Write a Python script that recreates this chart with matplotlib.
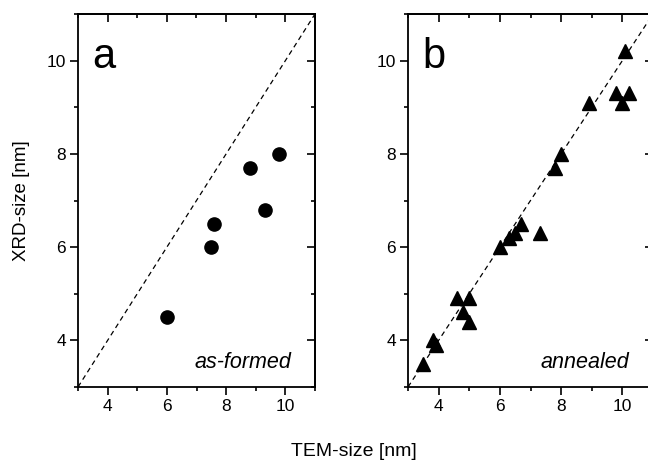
import matplotlib.pyplot as plt
from matplotlib.ticker import MultipleLocator

plt.rcParams['font.family'] = ['Liberation Sans', 'DejaVu Sans']

# as-formed particles: TEM size vs XRD size (nm)
tem_formed = [6.0, 7.5, 7.6, 8.8, 9.3, 9.8]
xrd_formed = [4.5, 6.0, 6.5, 7.7, 6.8, 8.0]

# annealed particles
tem_annealed = [3.5, 3.8, 3.9, 4.6, 5.0, 4.8, 5.0, 6.0, 6.3, 6.5, 6.7, 7.3,
                7.8, 8.0, 8.9, 9.8, 10.0, 10.2, 10.1]
xrd_annealed = [3.5, 4.0, 3.9, 4.9, 4.9, 4.6, 4.4, 6.0, 6.2, 6.3, 6.5, 6.3,
                7.7, 8.0, 9.1, 9.3, 9.1, 9.3, 10.2]

diag = [3, 11]
major_ticks = [4, 6, 8, 10]

fig = plt.figure(figsize=(6.48, 4.62), dpi=100)
ax_a = fig.add_axes([78 / 648, 75 / 462, 237 / 648, 373 / 462])
ax_b = fig.add_axes([408 / 648, 75 / 462, 245 / 648, 373 / 462])


def style_axes(ax):
    ax.set_xlim(3, 11)
    ax.set_ylim(3, 11)
    ax.set_xticks(major_ticks)
    ax.set_yticks(major_ticks)
    ax.xaxis.set_minor_locator(MultipleLocator(2, offset=1))
    ax.yaxis.set_minor_locator(MultipleLocator(2, offset=1))
    for s in ax.spines.values():
        s.set_linewidth(1.3)
    ax.tick_params(which='both', direction='out', width=1.2, labelsize=12.5,
                   top=False, right=False)
    ax.tick_params(which='major', length=5.5, pad=3)
    ax.tick_params(which='minor', length=3)
    # mirrored ticks on top/right point inward
    sec_x = ax.secondary_xaxis('top')
    sec_y = ax.secondary_yaxis('right')
    for sec, axis in ((sec_x, sec_x.xaxis), (sec_y, sec_y.yaxis)):
        sec.set_ticks(major_ticks)
        axis.set_minor_locator(MultipleLocator(2, offset=1))
        sec.tick_params(which='both', direction='in', width=1.2,
                        labeltop=False, labelright=False)
        sec.tick_params(which='major', length=5.5)
        sec.tick_params(which='minor', length=3)
        for s in sec.spines.values():
            s.set_linewidth(1.3)
    ax.plot(diag, diag, color='black', linestyle=(0, (4, 3)), linewidth=0.9)


style_axes(ax_a)
style_axes(ax_b)

ax_a.plot(tem_formed, xrd_formed, 'o', color='black', markersize=9.5)
ax_b.plot(tem_annealed, xrd_annealed, '^', color='black', markersize=10)

ax_a.text(0.06, 0.855, 'a', transform=ax_a.transAxes, fontsize=30)
ax_b.text(0.06, 0.855, 'b', transform=ax_b.transAxes, fontsize=30)
ax_a.text(0.9, 0.05, 'as-formed', transform=ax_a.transAxes, fontsize=15.5,
          style='italic', ha='right')
ax_b.text(0.905, 0.05, 'annealed', transform=ax_b.transAxes, fontsize=15.5,
          style='italic', ha='right')

ax_a.set_ylabel('XRD-size [nm]', fontsize=13.5, labelpad=12)
fig.text(354 / 648, 11 / 462, 'TEM-size [nm]', fontsize=14,
         ha='center', va='center')

fig.savefig('out.png', dpi=100)
